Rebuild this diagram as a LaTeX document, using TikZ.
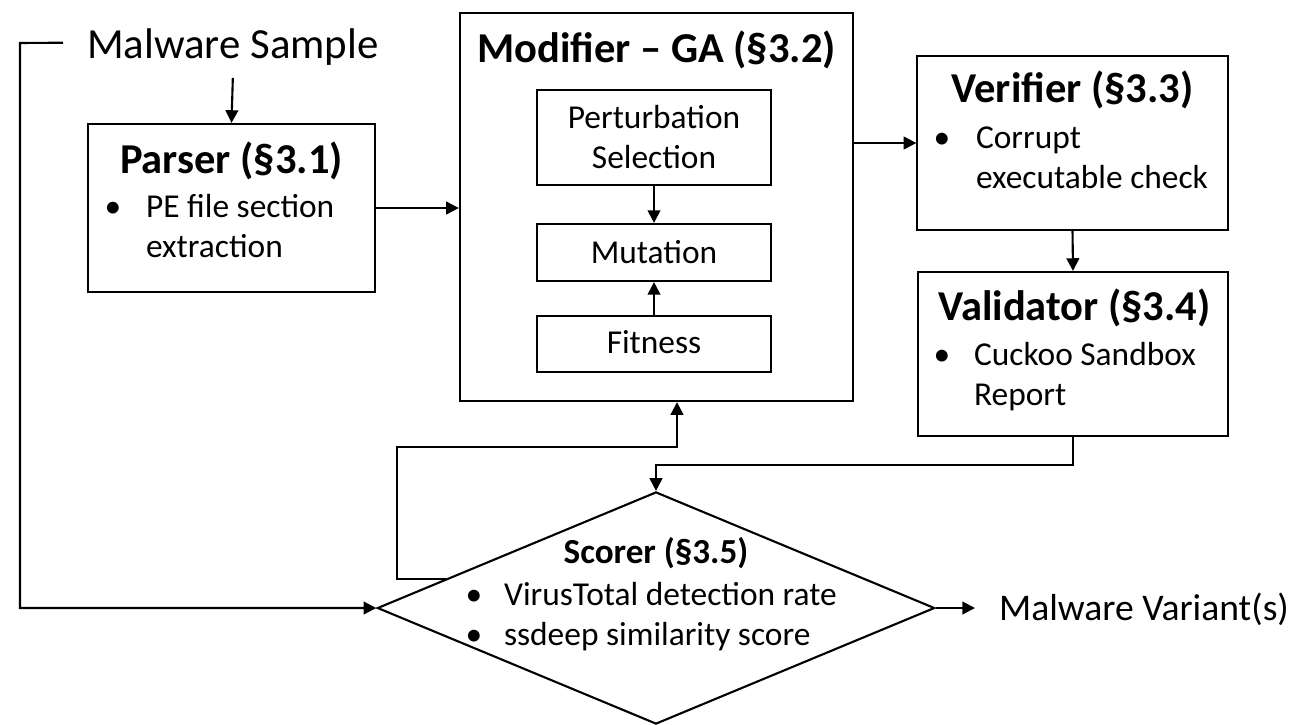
\documentclass[tikz,border=0pt]{standalone}
\usepackage{fontspec}
\setmainfont{Carlito}
\usetikzlibrary{arrows.meta,shapes.geometric,calc}

\begin{document}
\begin{tikzpicture}[x=0.01cm, y=-0.01cm, line width=0.6pt,
    box/.style={draw, inner sep=0pt},
    ttl/.style={font=\bfseries\fontsize{12.1}{14}\selectfont, anchor=base, inner sep=0pt},
    stl/.style={font=\bfseries\fontsize{10}{12}\selectfont, anchor=base, inner sep=0pt},
    txt/.style={font=\fontsize{9.5}{11.4}\selectfont, anchor=base west, inner sep=0pt},
    ctr/.style={font=\fontsize{9.5}{11.4}\selectfont, anchor=base, inner sep=0pt},
    big/.style={font=\fontsize{12.2}{14}\selectfont, anchor=base west, inner xsep=0.23cm, inner ysep=0.12cm},
    arr/.style={-{Triangle[length=3.6pt,width=3.6pt]}}]
  \path[fill=white] (0,0) rectangle (1295,724);
  \useasboundingbox (0,0) rectangle (1295,724);

  % blocks
  \node[box, minimum width=2.87cm, minimum height=1.68cm] (parser) at (231.5,208) {};
  \node[box, minimum width=3.93cm, minimum height=3.88cm] (modifier) at (656.5,207) {};
  \node[box, minimum width=2.34cm, minimum height=0.95cm] (perturb) at (654,137.5) {};
  \node[box, minimum width=2.34cm, minimum height=0.57cm] (mutation) at (654,252.5) {};
  \node[box, minimum width=2.34cm, minimum height=0.56cm] (fitness) at (654,344) {};
  \node[box, minimum width=3.10cm, minimum height=1.74cm] (verifier) at (1072.5,143) {};
  \node[box, minimum width=3.10cm, minimum height=1.64cm] (validator) at (1073,354) {};
  \node[box, diamond, minimum width=5.57cm, minimum height=2.32cm] (scorer) at (656,608) {};

  % texts
  \node[big] (sample) at (63,58) {Malware Sample};
  \node[big, font=\fontsize{10.7}{13}\selectfont] (variant) at (975,620) {Malware Variant(s)};

  \node[ttl] (ptitle) at (231.5,173) {Parser (\S3.1)};
  \node[ctr] (pdot) at (113,217) {\textbullet};
  \node[txt] (pline1) at (145,217) {PE file section};
  \node[txt] (pline2) at (145,257) {extraction};

  \node[ttl] (mtitle) at (656.5,62) {Modifier -- GA (\S3.2)};
  \node[ctr] (perturb1) at (654,128) {Perturbation};
  \node[ctr] (perturb2) at (654,168) {Selection};
  \node[ctr] (mutlabel) at (654,263) {Mutation};
  \node[ctr] (fitlabel) at (654,353) {Fitness};

  \node[ttl] (vtitle) at (1072.5,102) {Verifier (\S3.3)};
  \node[ctr] (vdot) at (942,148) {\textbullet};
  \node[txt] (vline1) at (975,148) {Corrupt};
  \node[txt] (vline2) at (975,188) {executable check};

  \node[ttl] (atitle) at (1074.5,320) {Validator (\S3.4)};
  \node[ctr] (adot) at (942,365) {\textbullet};
  \node[txt] (aline1) at (973,365) {Cuckoo Sandbox};
  \node[txt] (aline2) at (973,405) {Report};

  \node[stl] (stitle) at (656,563) {Scorer (\S3.5)};
  \node[ctr] (sdot1) at (474,605) {\textbullet};
  \node[txt] (sline1) at (503,605) {VirusTotal detection rate};
  \node[ctr] (sdot2) at (474,645) {\textbullet};
  \node[txt] (sline2) at (503,645) {ssdeep similarity score};

  % connectors
  \coordinate (leftrail) at (20,43);
  \coordinate (fbstart) at ($(scorer.west)!0.25!(scorer.north)$);
  \coordinate (loopa) at (397,447);
  \coordinate (loopb) at (677,447);

  \draw[arr] ([yshift=1.1pt]sample.west) -- (leftrail) |- (scorer.west);
  \draw[arr] (sample.south) -- (parser.north);
  \draw[arr] (parser.east) -- (parser.east -| modifier.west);
  \draw[arr] (perturb.south) -- (mutation.north);
  \draw[arr] (fitness.north) -- (mutation.south);
  \draw[arr] (modifier.east |- verifier.west) -- (verifier.west);
  \draw[arr] (verifier.south) -- (validator.north);
  \draw[arr] (validator.south) -- ++(0,28) -| (scorer.north);
  \draw[arr] (fbstart) -| (loopa) -- (loopb) -- (loopb |- modifier.south);
  \draw[arr] (scorer.east) -- (scorer.east -| variant.west);
\end{tikzpicture}
\end{document}
